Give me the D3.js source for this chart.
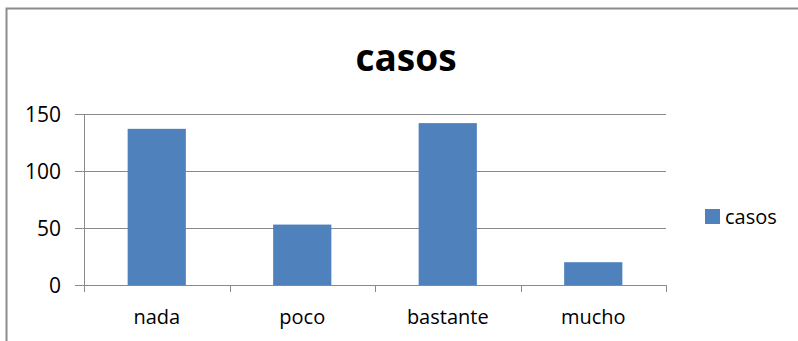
<!DOCTYPE html>
<html>
<head>
<meta charset="utf-8">
<script src="https://cdn.jsdelivr.net/npm/d3@7/dist/d3.min.js"></script>
<style>
  html, body { margin: 0; padding: 0; background: #fff; }
  svg { display: block; }
  text { font-family: "Open Sans", "Noto Sans", sans-serif; fill: #000; }
</style>
</head>
<body>
<svg id="chart" width="798" height="341"></svg>
<script>
// Data
const categories = ["nada", "poco", "bastante", "mucho"];
const casos = [137, 53, 142, 20];
const yTicks = [0, 50, 100, 150];
const seriesName = "casos";
const chartTitle = "casos";

const svg = d3.select("#chart");
const W = 798, H = 341;

// Outer chart frame
svg.append("rect")
  .attr("x", 6.5).attr("y", 8.5)
  .attr("width", W + 20).attr("height", H + 20)
  .attr("fill", "#fff")
  .attr("stroke", "#8c8c8c").attr("stroke-width", 2);

const plot = { left: 84, right: 666, top: 114, bottom: 285 };

const x = d3.scaleBand()
  .domain(categories)
  .range([plot.left, plot.right])
  .paddingInner(0.6).paddingOuter(0.3);

const y = d3.scaleLinear()
  .domain([0, 150])
  .range([plot.bottom, plot.top]);

// Gridlines
svg.append("g")
  .selectAll("line")
  .data(yTicks)
  .join("line")
  .attr("x1", plot.left - 9).attr("x2", plot.right)
  .attr("y1", d => Math.round(y(d)) + 0.5).attr("y2", d => Math.round(y(d)) + 0.5)
  .attr("stroke", "#8a8a8a").attr("stroke-width", 1);

// Y axis line
svg.append("line")
  .attr("x1", plot.left + 0.5).attr("x2", plot.left + 0.5)
  .attr("y1", plot.top).attr("y2", plot.bottom)
  .attr("stroke", "#8a8a8a");

// Y tick labels
svg.append("g")
  .selectAll("text")
  .data(yTicks)
  .join("text")
  .attr("x", plot.left - 23)
  .attr("y", d => y(d) + 7.5)
  .attr("text-anchor", "end")
  .attr("font-size", 21)
  .attr("fill", "#111")
  .text(d => d);

// Bars
svg.append("g")
  .selectAll("rect")
  .data(casos)
  .join("rect")
  .attr("x", (d, i) => x(categories[i]))
  .attr("y", d => y(d))
  .attr("width", x.bandwidth())
  .attr("height", d => y(0) - y(d))
  .attr("fill", "#4f81bd");

// X axis line and tick marks between categories
svg.append("line")
  .attr("x1", plot.left).attr("x2", plot.right)
  .attr("y1", Math.round(y(0)) + 0.5).attr("y2", Math.round(y(0)) + 0.5)
  .attr("stroke", "#8a8a8a");

const step = (plot.right - plot.left) / categories.length;
const xTickPos = d3.range(categories.length + 1).map(i => plot.left + i * step);
svg.append("g")
  .selectAll("line")
  .data(xTickPos)
  .join("line")
  .attr("x1", d => Math.round(d) + 0.5).attr("x2", d => Math.round(d) + 0.5)
  .attr("y1", plot.bottom).attr("y2", plot.bottom + 7)
  .attr("stroke", "#8a8a8a");

// X category labels
svg.append("g")
  .selectAll("text")
  .data(categories)
  .join("text")
  .attr("x", d => x(d) + x.bandwidth() / 2)
  .attr("y", 324)
  .attr("text-anchor", "middle")
  .attr("font-size", 20)
  .attr("fill", "#111")
  .text(d => d);

// Title
svg.append("text")
  .attr("x", 406).attr("y", 71)
  .attr("text-anchor", "middle")
  .attr("font-size", 37)
  .attr("font-weight", "bold")
  .text(chartTitle);

// Legend
const legend = svg.append("g");
legend.append("rect")
  .attr("x", 705).attr("y", 209)
  .attr("width", 15).attr("height", 15)
  .attr("fill", "#4f81bd");
legend.append("text")
  .attr("x", 725).attr("y", 224)
  .attr("font-size", 20)
  .attr("fill", "#111")
  .text(seriesName);
</script>
</body>
</html>
